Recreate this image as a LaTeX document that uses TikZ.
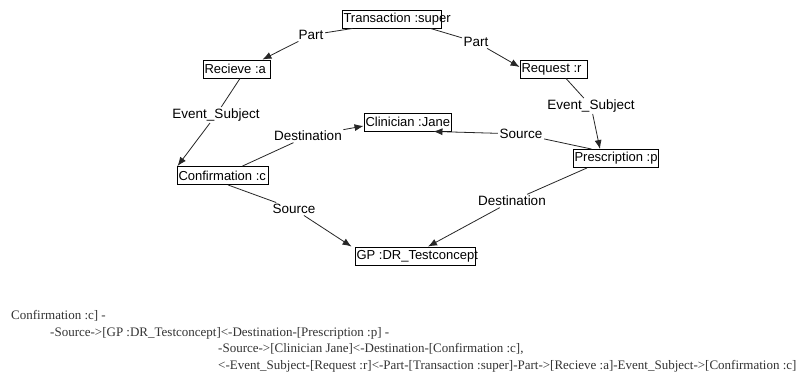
\documentclass[tikz,border=0pt]{standalone}
\usepackage{fontspec}
\setmainfont{Liberation Serif}
\setsansfont{Liberation Sans}
\usetikzlibrary{arrows.meta}

\begin{document}
\begin{tikzpicture}[x=1pt,y=-1pt,
  concept/.style={draw=black, line width=0.9pt, inner xsep=1.5pt, inner ysep=0pt,
    minimum height=18pt, font=\sffamily\fontsize{13}{15}\selectfont},
  rel/.style={inner sep=1.5pt, font=\sffamily\fontsize{13.5}{15}\selectfont},
  link/.style={draw=black!85, line width=0.8pt},
  linkarrow/.style={link, -{Latex[length=9pt,width=7pt]}},
  linear/.style={anchor=base west, inner sep=0pt, text=black!80,
    font=\rmfamily\fontsize{13}{15}\selectfont}]

  \useasboundingbox[fill=white] (0,0) rectangle (804,388);

  % concept boxes (text may run past the right edge of the box)
  \node[concept] (T)  at (391.5,19)  {\makebox[96pt][l]{Transaction :super}};
  \node[concept] (Rc) at (236.5,69)  {\makebox[64pt][l]{Recieve :a}};
  \node[concept] (Rq) at (553.5,69)  {\makebox[64pt][l]{Request :r}};
  \node[concept] (Cl) at (407.5,122) {\makebox[84pt][l]{Clinician :Jane}};
  \node[concept] (Cf) at (222.5,175.5) {\makebox[88pt][l]{Confirmation :c}};
  \node[concept] (Pr) at (615.5,158.5) {\makebox[82pt][l]{Prescription :p}};
  \node[concept] (GP) at (415,256)   {\makebox[117pt][l]{GP :DR\_Testconcept}};

  % relation labels
  \node[rel] (L1) at (311,35)  {Part};
  \node[rel] (L2) at (476,42)  {Part};
  \node[rel] (L3) at (216,115) {Event\_Subject};
  \node[rel] (L4) at (591,106) {Event\_Subject};
  \node[rel] (L5) at (308,136) {Destination};
  \node[rel] (L6) at (521,134) {Source};
  \node[rel] (L7) at (294,209) {Source};
  \node[rel] (L8) at (512,201) {Destination};

  % Transaction -Part-> Recieve
  \draw[link] ([xshift=11pt]T.south west) -- (L1);
  \draw[linkarrow] (L1) -- ([xshift=-8pt]Rc.north east);
  % Transaction -Part-> Request
  \draw[link] ([xshift=-11pt]T.south east) -- (L2);
  \draw[linkarrow] (L2) -- ([yshift=2pt]Rq.west);
  % Recieve -Event_Subject-> Confirmation
  \draw[link] ([xshift=3.5pt]Rc.south) -- (L3);
  \draw[linkarrow] (L3) -- ([xshift=1pt]Cf.north west);
  % Request -Event_Subject-> Prescription
  \draw[link] ([xshift=12.5pt]Rq.south) -- (L4);
  \draw[linkarrow] (L4) -- ([xshift=-15.5pt]Pr.north);
  % Confirmation -Destination-> Clinician
  \draw[link] ([xshift=20pt]Cf.north) -- (L5);
  \draw[linkarrow] (L5) -- ([yshift=-4pt]Cl.west);
  % Prescription -Source-> Clinician
  \draw[link] ([xshift=19pt]Pr.north west) -- (L6);
  \draw[linkarrow] (L6) -- ([xshift=-18pt]Cl.south east);
  % Confirmation -Source-> GP
  \draw[link] ([xshift=5.5pt]Cf.south) -- (L7);
  \draw[linkarrow] (L7) -- ([xshift=-3pt]GP.north west);
  % Prescription -Destination-> GP
  \draw[link] ([xshift=-28.5pt]Pr.south) -- (L8);
  \draw[linkarrow] (L8) -- ([xshift=13pt]GP.north);

  % linear form of the graph
  \node[linear] (t1) at (11,319)  {Confirmation :c] -};
  \node[linear] (t2) at (50,336)  {-Source->[GP :DR\_Testconcept]<-Destination-[Prescription :p] -};
  \node[linear] (t3) at (218,352) {-Source->[Clinician Jane]<-Destination-[Confirmation :c],};
  \node[linear] (t4) at (218,369) {<-Event\_Subject-[Request :r]<-Part-[Transaction :super]-Part->[Recieve :a]-Event\_Subject->[Confirmation :c]};
\end{tikzpicture}
\end{document}
